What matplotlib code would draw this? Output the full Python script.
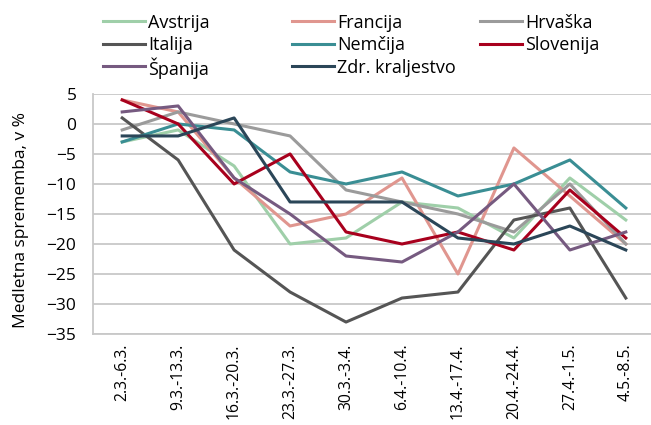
import matplotlib.pyplot as plt
from matplotlib.lines import Line2D
import numpy as np

plt.rcParams['font.family'] = ['Open Sans', 'DejaVu Sans']

weeks = ['2.3.-6.3.', '9.3.-13.3.', '16.3.-20.3.', '23.3.-27.3.', '30.3.-3.4.',
         '6.4.-10.4.', '13.4.-17.4.', '20.4.-24.4.', '27.4.-1.5.', '4.5.-8.5.']

avstrija = [-3, -1, -7, -20, -19, -13, -14, -19, -9, -16]
francija = [4, 2, -9, -17, -15, -9, -25, -4, -12, -20]
hrvaska = [-1, 2, 0, -2, -11, -13, -15, -18, -10, -20]
italija = [1, -6, -21, -28, -33, -29, -28, -16, -14, -29]
nemcija = [-3, 0, -1, -8, -10, -8, -12, -10, -6, -14]
slovenija = [4, 0, -10, -5, -18, -20, -18, -21, -11, -19]
spanija = [2, 3, -9, -15, -22, -23, -18, -10, -21, -18]
zdr_kr = [-2, -2, 1, -13, -13, -13, -19, -20, -17, -21]

series = [
    ('Avstrija', avstrija, '#9fcfa9'),
    ('Francija', francija, '#e0968f'),
    ('Hrvaška', hrvaska, '#9b9b9b'),
    ('Italija', italija, '#555555'),
    ('Nemčija', nemcija, '#3a8e94'),
    ('Slovenija', slovenija, '#a8001d'),
    ('Španija', spanija, '#765a80'),
    ('Zdr. kraljestvo', zdr_kr, '#2b4658'),
]

W, H = 651, 425
fig = plt.figure(figsize=(W / 100, H / 100), dpi=100)
ax = fig.add_axes([0.143, 0.214, 0.857, 0.565])

x = np.arange(len(weeks))
for name, vals, col in series:
    ax.plot(x, vals, color=col, lw=2.2, label=name)

ax.set_xlim(-0.52, 9.45)
ax.set_ylim(-35, 5)
ax.set_yticks(np.arange(-35, 6, 5))
ax.set_xticks(x)
ax.set_xticklabels(weeks, rotation=90, fontsize=11.3)
ax.tick_params(axis='y', labelsize=12.5, length=0, pad=12)
ax.tick_params(axis='x', length=0, pad=7)
ax.grid(axis='y', color='#c8c8c8', lw=1.3)
ax.set_axisbelow(True)
for s in ['top', 'right']:
    ax.spines[s].set_visible(False)
ax.spines['bottom'].set_color('#c8c8c8')
ax.spines['bottom'].set_linewidth(1.3)
ax.spines['left'].set_color('#c8c8c8')
ax.spines['left'].set_linewidth(1.3)

fig.text(21 / W, 1 - 220 / H, 'Medletna sprememba, v %', rotation=90,
         ha='center', va='center', fontsize=12.5)

# legend drawn by hand: 3 columns, filled row by row (pixel layout)
col_x = [103, 292, 480]
for i, (name, _, col) in enumerate(series):
    x0 = col_x[i % 3]
    y0 = H - (21 + 22.5 * (i // 3))
    fig.add_artist(Line2D([x0 / W, (x0 + 42) / W], [y0 / H, y0 / H],
                          color=col, lw=2.2, transform=fig.transFigure))
    fig.text((x0 + 45) / W, y0 / H, name, fontsize=13, va='center_baseline',
             ha='left')

fig.savefig('out.png', dpi=100)
